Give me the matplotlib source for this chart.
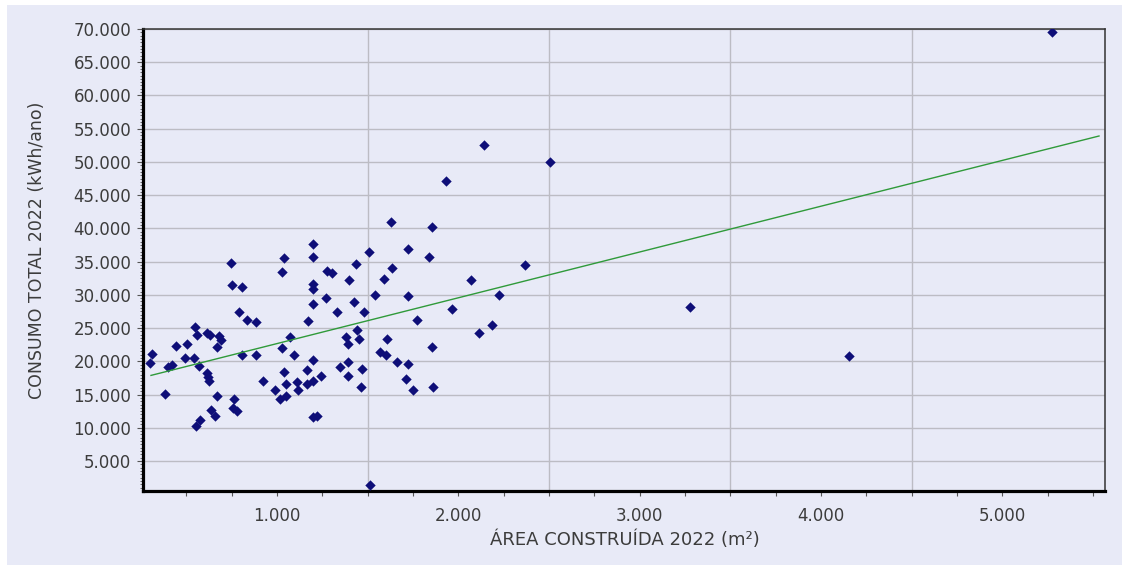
import numpy as np
import matplotlib
matplotlib.use("Agg")
import matplotlib.pyplot as plt
from matplotlib.ticker import FuncFormatter
from matplotlib.patches import Rectangle

# --- dados ---
area_m2 = [300, 311, 380, 399, 423, 443, 502, 494, 544, 548,
           560, 571, 612, 630, 682, 690, 671, 612, 618, 625,
           667, 638, 660, 578, 556, 745, 752, 807, 789, 833,
           886, 805, 886, 763, 759, 779, 920, 989, 1014, 1048,
           1041, 1050, 1040, 1025, 1025, 1072, 1094, 1108, 1113, 1163,
           1163, 1173, 1197, 1197, 1197, 1199, 1197, 1197, 1197, 1199,
           1223, 1241, 1274, 1302, 1269, 1331, 1347, 1381, 1390, 1392,
           1392, 1398, 1426, 1436, 1443, 1452, 1461, 1469, 1480, 1510,
           1513, 1539, 1570, 1601, 1608, 1592, 1626, 1635, 1659, 1711,
           1722, 1722, 1722, 1749, 1772, 1836, 1853, 1853, 1861, 1932,
           1963, 2070, 2114, 2142, 2184, 2226, 2367, 2507, 3278, 4155,
           5272]
consumo_kwh = [19800, 21050, 15050, 19100, 19450, 22300, 22600, 20450, 20450, 25100,
               23950, 19300, 24300, 23950, 23800, 23200, 22200, 18300, 17700, 17100,
               14800, 12700, 11700, 11150, 10200, 34800, 31450, 31200, 27400, 26200,
               25950, 20950, 20950, 14400, 13000, 12550, 17100, 15750, 14300, 14800,
               18350, 16650, 35500, 33400, 21950, 23650, 20950, 16900, 15750, 18750,
               16650, 26000, 37650, 35700, 31600, 30850, 28600, 20250, 17100, 11550,
               11700, 17850, 33600, 33350, 29550, 27400, 19150, 23600, 22600, 19950,
               17850, 32250, 28900, 34600, 24750, 23300, 16200, 18900, 27450, 36450,
               1400, 30000, 21450, 21000, 23350, 32400, 40950, 34050, 19950, 17400,
               19600, 29800, 36950, 15750, 26200, 35750, 40250, 22100, 16200, 47150,
               27850, 32200, 24300, 52600, 25450, 30050, 34550, 50000, 28150, 20800,
               69500]

# linha de tendencia (extremos)
trend_x = [305, 5533]
trend_y = [17880, 53900]

x_major = [1000, 2000, 3000, 4000, 5000]
x_minor = list(range(500, 5501, 250))
x_grid = [1500, 2500, 3500, 4500]
y_major = list(range(5000, 70001, 5000))
y_minor = list(range(1000, 70001, 500))

bg = "#e8eaf7"
txt = "#3c3c3c"


def fmt_br(v, pos=None):
    return f"{int(round(v)):,}".replace(",", ".")


fig = plt.figure(figsize=(11.32, 5.69), dpi=100, facecolor="white")
# painel lilas atras do grafico
fig.patches.append(Rectangle((7 / 1132, 4 / 569), 1115 / 1132, 560 / 569,
                             transform=fig.transFigure, facecolor=bg,
                             edgecolor="none", zorder=-10))

ax = fig.add_axes([143 / 1132, 1 - 491 / 569, 962 / 1132, 462 / 569])
ax.set_facecolor(bg)

ax.set_xlim(261, 5566)
ax.set_ylim(487, 70000)

# grade
for gx in x_grid:
    ax.axvline(gx, color="#bcbcc4", lw=1, zorder=1)
for gy in y_major:
    ax.axhline(gy, color="#bcbcc4", lw=1, zorder=1)

ax.scatter(area_m2, consumo_kwh, marker="D", s=28, color="#0e0e78",
           linewidths=0, zorder=3)
ax.plot(trend_x, trend_y, color="#2f9a3a", lw=1, zorder=4)

ax.set_xticks(x_major)
ax.set_xticks(x_minor, minor=True)
ax.set_yticks(y_major)
ax.set_yticks(y_minor, minor=True)
ax.xaxis.set_major_formatter(FuncFormatter(fmt_br))
ax.yaxis.set_major_formatter(FuncFormatter(fmt_br))

ax.tick_params(axis="x", which="both", direction="out", length=3.5, width=0.8,
               color="#555555", pad=8, labelsize=12, labelcolor=txt)
ax.tick_params(axis="y", which="major", direction="out", length=4, width=0.8,
               color="#555555", pad=4.5, labelsize=12, labelcolor=txt)
ax.tick_params(axis="y", which="minor", direction="out", length=2, width=0.6,
               color="#555555")

for side in ["left", "bottom"]:
    ax.spines[side].set_linewidth(2.3)
    ax.spines[side].set_color("black")
for side in ["top", "right"]:
    ax.spines[side].set_linewidth(1.1)
    ax.spines[side].set_color("#333333")

ax.set_xlabel("ÁREA CONSTRUÍDA 2022 (m²)", fontsize=13, color=txt)
ax.set_ylabel("CONSUMO TOTAL 2022 (kWh/ano)", fontsize=12.5, color=txt)
ax.xaxis.set_label_coords(0.501, -0.086)
ax.yaxis.set_label_coords(-0.101, 0.52)

plt.savefig("out.png", dpi=100, facecolor="white")
